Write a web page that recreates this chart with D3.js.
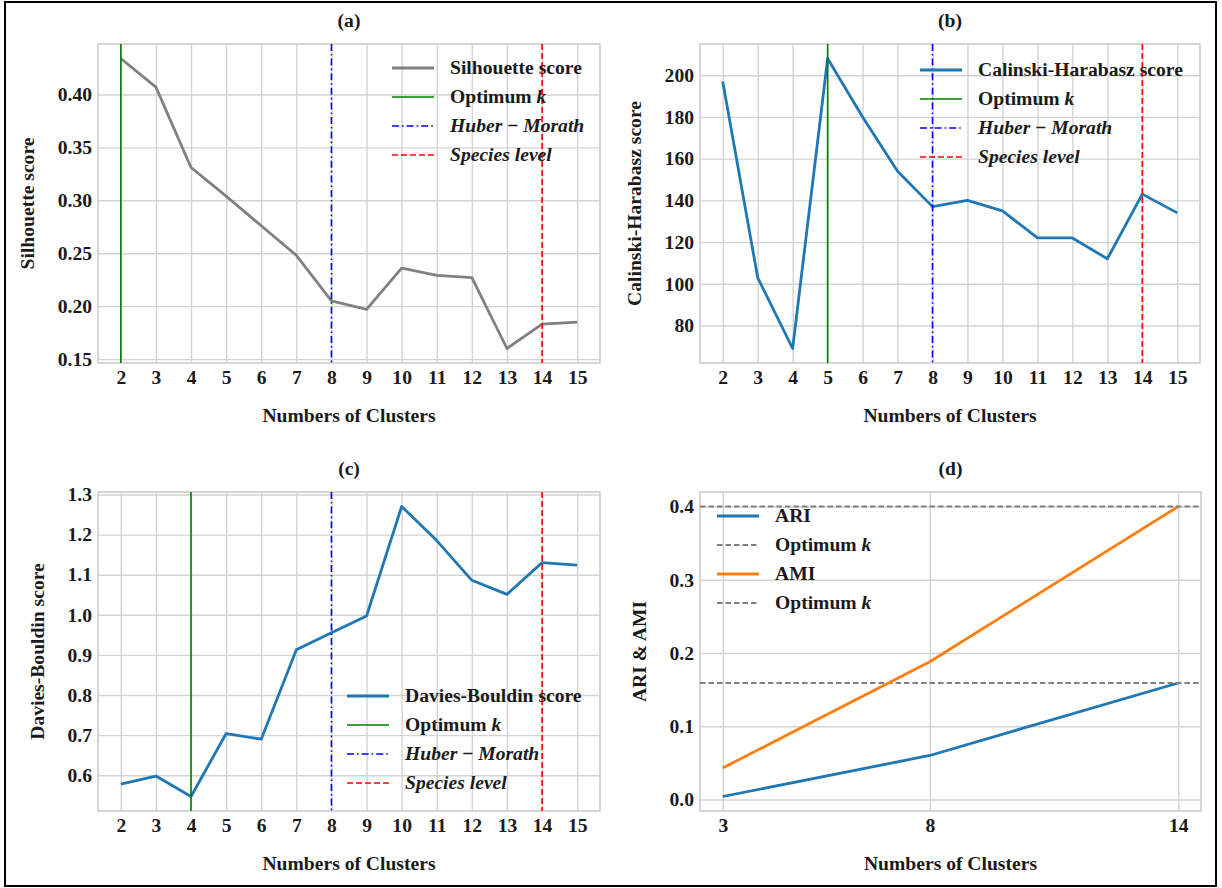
<!DOCTYPE html>
<html>
<head>
<meta charset="utf-8">
<script src="https://cdn.jsdelivr.net/npm/d3@7"></script>
<style>
  body { margin: 0; background: #fff; }
  svg { display: block; }
  text { font-family: "Liberation Serif", "Times New Roman", serif; font-weight: bold; fill: #1a1a1a; }
</style>
</head>
<body>
<svg id="fig" width="1222" height="888"></svg>
<script>
// ---- data -------------------------------------------------------------
const clusters = [2, 3, 4, 5, 6, 7, 8, 9, 10, 11, 12, 13, 14, 15];
const silhouette = [0.434, 0.407, 0.331, 0.304, 0.276, 0.248, 0.205, 0.197, 0.236, 0.229, 0.227, 0.160, 0.183, 0.185];
const calinski = [197, 103, 69, 208, 180, 154, 137, 140, 135, 122, 122, 112, 143, 134];
const davies = [0.578, 0.598, 0.547, 0.704, 0.690, 0.913, 0.955, 0.997, 1.270, 1.185, 1.086, 1.051, 1.130, 1.124];

const refClusters = [3, 8, 14];
const ari = [0.004, 0.060, 0.159];
const ami = [0.043, 0.188, 0.400];
const ariOptimum = 0.159;
const amiOptimum = 0.400;

const optimumKSilhouette = 2;
const optimumKCalinski = 5;
const optimumKDavies = 4;
const huberMorathK = 8;
const speciesLevelK = 14;

const silhouetteTicks = [0.15, 0.20, 0.25, 0.30, 0.35, 0.40];
const calinskiTicks = [80, 100, 120, 140, 160, 180, 200];
const daviesTicks = [0.6, 0.7, 0.8, 0.9, 1.0, 1.1, 1.2, 1.3];
const indexTicks = [0.0, 0.1, 0.2, 0.3, 0.4];

// ---- styles -----------------------------------------------------------
const C = { grey: "#808080", blue: "#1f77b4", orange: "#ff7f0e", green: "#008000", vblue: "#0000ff", red: "#ff0000", dgrey: "#808080" };
const FONT = 19.6;
const svg = d3.select("#fig");

// outer frame
svg.append("rect").attr("x", 5).attr("y", 2).attr("width", 1211).attr("height", 884)
  .attr("fill", "none").attr("stroke", "#000").attr("stroke-width", 2);

// matplotlib-like 5% padding
function padded(ext) {
  const m = (ext[1] - ext[0]) * 0.05;
  return [ext[0] - m, ext[1] + m];
}

function drawPanel(cfg) {
  const g = svg.append("g");
  const x = d3.scaleLinear().domain(padded(d3.extent(cfg.xs))).range([cfg.left, cfg.right]);
  const yExt = d3.extent(cfg.series.flatMap(s => s.values).concat(cfg.hlines.map(h => h.value)));
  const y = d3.scaleLinear().domain(padded(yExt)).range([cfg.bottom, cfg.top]);
  const w = cfg.right - cfg.left, h = cfg.bottom - cfg.top;

  // grid
  g.append("g").attr("transform", `translate(0,${cfg.bottom})`)
    .call(d3.axisBottom(x).tickValues(cfg.xs).tickSize(-h).tickFormat(""))
    .call(a => a.select(".domain").remove())
    .call(a => a.selectAll("line").attr("stroke", "#d3d3d3").attr("stroke-width", 1.4));
  g.append("g").attr("transform", `translate(${cfg.left},0)`)
    .call(d3.axisLeft(y).tickValues(cfg.yTicks).tickSize(-w).tickFormat(""))
    .call(a => a.select(".domain").remove())
    .call(a => a.selectAll("line").attr("stroke", "#d3d3d3").attr("stroke-width", 1.4));

  // frame
  g.append("rect").attr("x", cfg.left).attr("y", cfg.top).attr("width", w).attr("height", h)
    .attr("fill", "none").attr("stroke", "#cccccc").attr("stroke-width", 1.6);

  // tick labels
  const xa = g.append("g").attr("transform", `translate(0,${cfg.bottom})`)
    .call(d3.axisBottom(x).tickValues(cfg.xs).tickSize(0).tickPadding(7).tickFormat(d3.format("d")));
  xa.select(".domain").remove();
  xa.selectAll("text").attr("font-size", FONT).attr("font-family", null).attr("fill", "#1a1a1a");
  const ya = g.append("g").attr("transform", `translate(${cfg.left},0)`)
    .call(d3.axisLeft(y).tickValues(cfg.yTicks).tickSize(0).tickPadding(6).tickFormat(d3.format(cfg.yFmt)));
  ya.select(".domain").remove();
  ya.selectAll("text").attr("font-size", FONT).attr("font-family", null).attr("fill", "#1a1a1a");
  let tickW = 0;
  ya.selectAll("text").each(function () { tickW = Math.max(tickW, this.getComputedTextLength()); });

  // axis labels and title
  g.append("text").attr("x", (cfg.left + cfg.right) / 2).attr("y", cfg.top - 17)
    .attr("text-anchor", "middle").attr("font-size", FONT).text(cfg.title);
  g.append("text").attr("x", (cfg.left + cfg.right) / 2).attr("y", cfg.bottom + 59)
    .attr("text-anchor", "middle").attr("font-size", FONT).text("Numbers of Clusters");
  const lx = cfg.left - 6 - tickW - 24;
  g.append("text").attr("transform", `translate(${lx},${(cfg.top + cfg.bottom) / 2}) rotate(-90)`)
    .attr("text-anchor", "middle").attr("font-size", FONT).text(cfg.yLabel);

  // marks, in plotting order
  const line = d3.line().x(d => x(d[0])).y(d => y(d[1]));
  cfg.layers.forEach(L => {
    if (L.type === "series") {
      const s = cfg.series[L.i];
      g.append("path").datum(cfg.xs.map((c, i) => [c, s.values[i]]))
        .attr("d", line).attr("fill", "none").attr("stroke", s.color)
        .attr("stroke-width", 2.8).attr("stroke-linejoin", "round");
    } else if (L.type === "vline") {
      g.append("line").attr("x1", x(L.value)).attr("x2", x(L.value))
        .attr("y1", cfg.top).attr("y2", cfg.bottom)
        .attr("stroke", L.color).attr("stroke-width", 1.6).attr("stroke-dasharray", L.dash || null);
    } else if (L.type === "hline") {
      g.append("line").attr("y1", y(L.value)).attr("y2", y(L.value))
        .attr("x1", cfg.left).attr("x2", cfg.right)
        .attr("stroke", L.color).attr("stroke-width", 1.8).attr("stroke-dasharray", L.dash || null);
    }
  });

  // legend
  cfg.legend.items.forEach((it, i) => {
    const yy = cfg.legend.y + i * 29;
    g.append("line").attr("x1", cfg.legend.x).attr("x2", cfg.legend.x + 42)
      .attr("y1", yy).attr("y2", yy).attr("stroke", it.color)
      .attr("stroke-width", it.width).attr("stroke-dasharray", it.dash || null);
    const t = g.append("text").attr("x", cfg.legend.x + 58).attr("y", yy)
      .attr("dy", "0.33em").attr("font-size", FONT);
    it.parts.forEach(p => t.append("tspan").attr("font-style", p[1] ? "italic" : null).text(p[0]));
  });
}

const DASH = "6,3";
const DASHDOT = "7,3,1.6,3";
const legendRefs = [
  { parts: [["Optimum "], ["k", true]], color: C.green, width: 1.6 },
  { parts: [["Huber", true], [" \u2212 "], ["Morath", true]], color: C.vblue, width: 1.6, dash: DASHDOT },
  { parts: [["Species level", true]], color: C.red, width: 1.6, dash: DASH }
];
const refLayers = k => [
  { type: "series", i: 0 },
  { type: "vline", value: k, color: C.green },
  { type: "vline", value: huberMorathK, color: C.vblue, dash: DASHDOT },
  { type: "vline", value: speciesLevelK, color: C.red, dash: DASH }
];

drawPanel({
  title: "(a)", left: 98, right: 600, top: 44, bottom: 363,
  xs: clusters, series: [{ values: silhouette, color: C.grey }], hlines: [],
  yTicks: silhouetteTicks, yFmt: ".2f", yLabel: "Silhouette score",
  layers: refLayers(optimumKSilhouette),
  legend: { x: 392, y: 68, items: [{ parts: [["Silhouette score"]], color: C.grey, width: 2.8 }].concat(legendRefs) }
});

drawPanel({
  title: "(b)", left: 700, right: 1200, top: 44, bottom: 363,
  xs: clusters, series: [{ values: calinski, color: C.blue }], hlines: [],
  yTicks: calinskiTicks, yFmt: "d", yLabel: "Calinski-Harabasz score",
  layers: refLayers(optimumKCalinski),
  legend: { x: 920, y: 70, items: [{ parts: [["Calinski-Harabasz score"]], color: C.blue, width: 2.8 }].concat(legendRefs) }
});

drawPanel({
  title: "(c)", left: 98, right: 600, top: 492, bottom: 811,
  xs: clusters, series: [{ values: davies, color: C.blue }], hlines: [],
  yTicks: daviesTicks, yFmt: ".1f", yLabel: "Davies-Bouldin score",
  layers: refLayers(optimumKDavies),
  legend: { x: 347, y: 696, items: [{ parts: [["Davies-Bouldin score"]], color: C.blue, width: 2.8 }].concat(legendRefs) }
});

drawPanel({
  title: "(d)", left: 700, right: 1201, top: 492, bottom: 811,
  xs: refClusters,
  series: [{ values: ari, color: C.blue }, { values: ami, color: C.orange }],
  hlines: [{ value: ariOptimum }, { value: amiOptimum }],
  yTicks: indexTicks, yFmt: ".1f", yLabel: "ARI & AMI",
  layers: [
    { type: "series", i: 0 },
    { type: "hline", value: ariOptimum, color: C.dgrey, dash: "5.5,3" },
    { type: "series", i: 1 },
    { type: "hline", value: amiOptimum, color: C.dgrey, dash: "5.5,3" }
  ],
  legend: { x: 717, y: 516, items: [
    { parts: [["ARI"]], color: C.blue, width: 2.8 },
    { parts: [["Optimum "], ["k", true]], color: C.dgrey, width: 1.8, dash: "5.5,3" },
    { parts: [["AMI"]], color: C.orange, width: 2.8 },
    { parts: [["Optimum "], ["k", true]], color: C.dgrey, width: 1.8, dash: "5.5,3" }
  ] }
});
</script>
</body>
</html>
